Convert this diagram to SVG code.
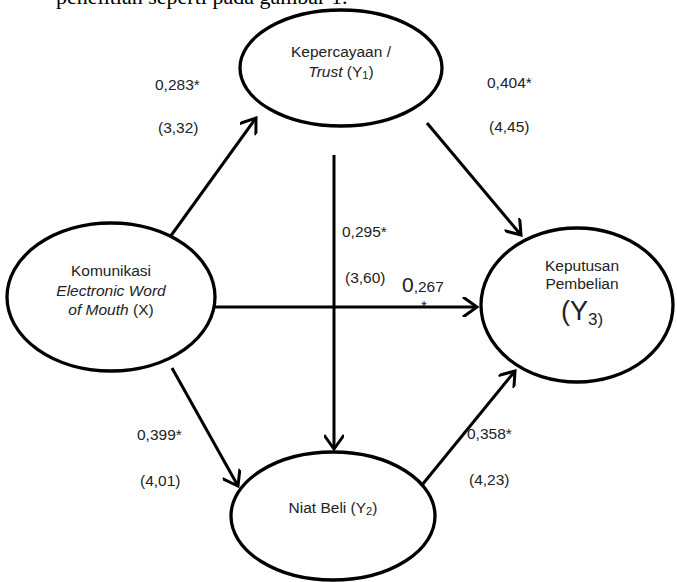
<svg xmlns="http://www.w3.org/2000/svg" width="677" height="582" viewBox="0 0 677 582">
<style>
.node{fill:#fff;stroke:#000;stroke-width:3.3}
.t{font-family:"Liberation Sans",Arial,sans-serif;font-size:15.5px;fill:#222}
.lbl{font-family:"Liberation Sans",Arial,sans-serif;font-size:15.5px;fill:#222}
.edge{stroke:#000;stroke-width:3;fill:none;marker-end:url(#arr)}
</style>
<defs>
<marker id="arr" viewBox="0 0 20 20" refX="17" refY="10" markerWidth="20" markerHeight="20" markerUnits="userSpaceOnUse" orient="auto">
<path d="M3,0 L17,10 L3,20" fill="none" stroke="#000" stroke-width="3" stroke-linejoin="miter"/>
</marker>
</defs>
<rect width="677" height="582" fill="#fff"/>
<text x="56" y="4" font-family="'Liberation Serif','Times New Roman',serif" font-size="22" fill="#000">penelitian seperti pada gambar 1.</text>

<g id="connectors">
<line class="edge" x1="170" y1="237" x2="256" y2="118"/>
<line class="edge" x1="427" y1="123" x2="521" y2="235"/>
<line class="edge" x1="334" y1="155" x2="334" y2="449"/>
<line class="edge" x1="215" y1="307" x2="477" y2="307"/>
<line class="edge" x1="172" y1="368" x2="238" y2="486"/>
<line class="edge" x1="422" y1="485" x2="515" y2="371"/>
</g>

<g id="y1">
<ellipse class="node" cx="341" cy="68" rx="101" ry="58"/>
<text class="t" x="341" y="57" text-anchor="middle">Kepercayaan /</text>
<text class="t" x="341" y="77" text-anchor="middle"><tspan font-style="italic">Trust</tspan> (Y<tspan font-size="11" dy="2">1</tspan><tspan dy="-2">)</tspan></text>
</g>

<g id="x">
<ellipse class="node" cx="111" cy="297" rx="104" ry="74"/>
<text class="t" x="111" y="276" text-anchor="middle">Komunikasi</text>
<text class="t" x="111" y="296" text-anchor="middle" font-style="italic">Electronic Word</text>
<text class="t" x="111" y="315" text-anchor="middle"><tspan font-style="italic">of Mouth</tspan> (X)</text>
</g>

<g id="y3">
<ellipse class="node" cx="577" cy="305" rx="96" ry="77"/>
<text class="t" x="582" y="271" text-anchor="middle">Keputusan</text>
<text class="t" x="582" y="289" text-anchor="middle">Pembelian</text>
<text class="t" x="582" y="320" text-anchor="middle"><tspan font-size="27">(Y</tspan><tspan font-size="17" dy="5">3)</tspan></text>
</g>

<g id="y2">
<ellipse class="node" cx="333" cy="516" rx="102" ry="64"/>
<text class="t" x="333" y="513" text-anchor="middle">Niat Beli (Y<tspan font-size="11" dy="2">2</tspan><tspan dy="-2">)</tspan></text>
</g>

<g id="labels">
<text class="lbl" x="155" y="90">0,283*</text>
<text class="lbl" x="158" y="133">(3,32)</text>
<text class="lbl" x="487" y="88">0,404*</text>
<text class="lbl" x="489" y="132">(4,45)</text>
<text class="lbl" x="342" y="237">0,295*</text>
<text class="lbl" x="345" y="283">(3,60)</text>
<text class="lbl" x="402" y="292"><tspan font-size="21">0</tspan>,267</text>
<text class="lbl" x="421" y="311">*</text>
<text class="lbl" x="137" y="440">0,399*</text>
<text class="lbl" x="140" y="486">(4,01)</text>
<text class="lbl" x="467" y="439">0,358*</text>
<text class="lbl" x="469" y="485">(4,23)</text>
</g>
</svg>
